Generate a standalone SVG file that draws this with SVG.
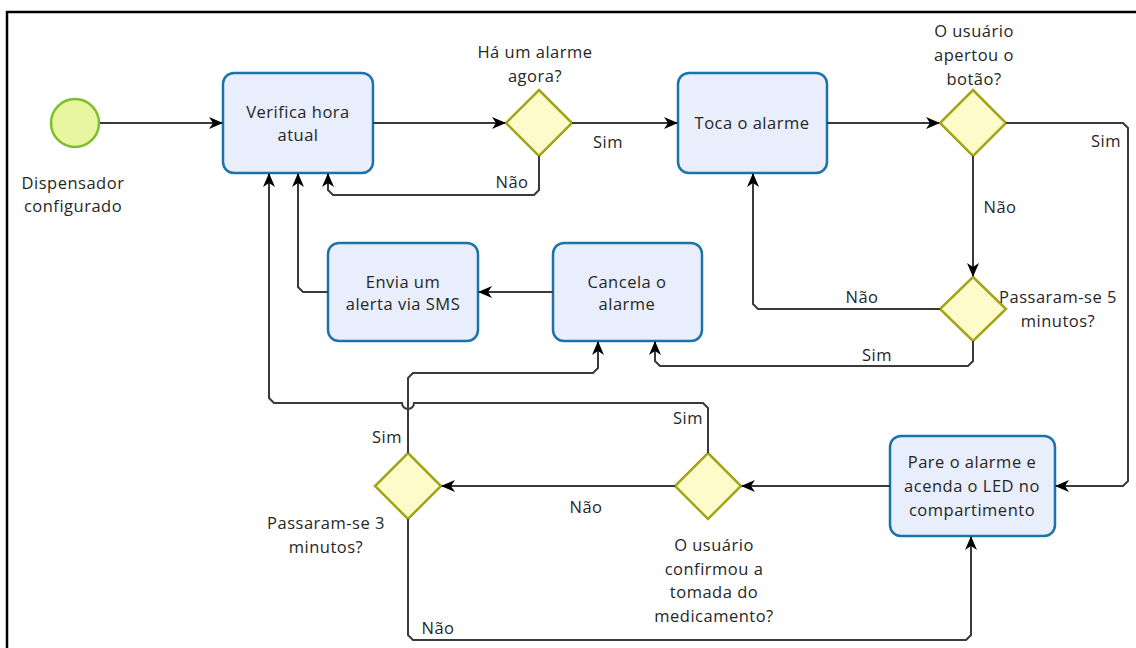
<svg xmlns="http://www.w3.org/2000/svg" width="1136" height="648" viewBox="0 0 1136 648">
<style>
.t{font-family:"Open Sans","Liberation Sans",sans-serif;font-size:16.5px;letter-spacing:0.5px;fill:#262626;text-anchor:middle}
.box{fill:#e8eefb;stroke:#1c73a8;stroke-width:2.5}
.dia{fill:#fcfbc9;stroke:#a3a519;stroke-width:2.5}
.c{fill:none;stroke:#3a3a3a;stroke-width:2}
</style>
<defs>
<marker id="ah" markerWidth="14" markerHeight="12" refX="13" refY="6" orient="auto" markerUnits="userSpaceOnUse">
<path d="M0,0 L14,6 L0,12 L4,6 Z" fill="#000"/>
</marker>
</defs>
<rect width="1136" height="648" fill="#fff"/>
<path d="M7,648 V12 H1136" fill="none" stroke="#000" stroke-width="2.5"/>

<g id="start">
<circle cx="75" cy="123" r="24" fill="#e8f6a0" stroke="#7cbf2a" stroke-width="2.5"/>
<text class="t" x="73" y="189">Dispensador</text>
<text class="t" x="73" y="212">configurado</text>
</g>
<g id="verifica">
<rect class="box" x="223" y="73" width="150" height="100" rx="11"/>
<text class="t" x="298" y="118">Verifica hora</text>
<text class="t" x="298" y="141">atual</text>
</g>
<g id="d1">
<polygon class="dia" points="539,90 572,123 539,156 506,123"/>
<text class="t" x="535" y="58">Há um alarme</text>
<text class="t" x="535" y="82">agora?</text>
</g>
<g id="toca">
<rect class="box" x="678" y="73" width="149" height="100" rx="11"/>
<text class="t" x="752" y="129">Toca o alarme</text>
</g>
<g id="d2">
<polygon class="dia" points="973,90 1006,123 973,156 940,123"/>
<text class="t" x="974" y="37">O usuário</text>
<text class="t" x="974" y="61">apertou o</text>
<text class="t" x="974" y="85">botão?</text>
</g>
<g id="d3">
<polygon class="dia" points="973,277 1006,309 973,341 940,309"/>
<text class="t" x="1058" y="303">Passaram-se 5</text>
<text class="t" x="1058" y="327">minutos?</text>
</g>
<g id="envia">
<rect class="box" x="328" y="243" width="150" height="98" rx="11"/>
<text class="t" x="403" y="288">Envia um</text>
<text class="t" x="403" y="310">alerta via SMS</text>
</g>
<g id="cancela">
<rect class="box" x="553" y="243" width="149" height="98" rx="11"/>
<text class="t" x="627" y="288">Cancela o</text>
<text class="t" x="627" y="310">alarme</text>
</g>
<g id="pare">
<rect class="box" x="890" y="436" width="165" height="100" rx="11"/>
<text class="t" x="972" y="468">Pare o alarme e</text>
<text class="t" x="972" y="492">acenda o LED no</text>
<text class="t" x="972" y="516">compartimento</text>
</g>
<g id="d5">
<polygon class="dia" points="708,453 741,486 708,519 675,486"/>
<text class="t" x="714" y="551">O usuário</text>
<text class="t" x="714" y="575">confirmou a</text>
<text class="t" x="714" y="598">tomada do</text>
<text class="t" x="714" y="622">medicamento?</text>
</g>
<g id="d4">
<polygon class="dia" points="408,453 441,486 408,519 375,486"/>
<text class="t" x="326" y="529">Passaram-se 3</text>
<text class="t" x="326" y="553">minutos?</text>
</g>

<g id="connectors">
<path class="c" d="M100,123 H222" marker-end="url(#ah)"/>
<path class="c" d="M373,123 H505" marker-end="url(#ah)"/>
<path class="c" d="M572,123 H677" marker-end="url(#ah)"/>
<path class="c" d="M539,156 V190 L534,195 H333 L328,190 V174" marker-end="url(#ah)"/>
<path class="c" d="M827,123 H939" marker-end="url(#ah)"/>
<path class="c" d="M1006,123 H1123 L1128,128 V481 L1123,486 H1056" marker-end="url(#ah)"/>
<path class="c" d="M973,156 V276" marker-end="url(#ah)"/>
<path class="c" d="M940,309 H758 L753,304 V174" marker-end="url(#ah)"/>
<path class="c" d="M973,341 V361 L968,366 H660 L655,361 V342" marker-end="url(#ah)"/>
<path class="c" d="M553,292 H479" marker-end="url(#ah)"/>
<path class="c" d="M328,292 H303 L298,287 V174" marker-end="url(#ah)"/>
<path class="c" d="M890,486 H742" marker-end="url(#ah)"/>
<path class="c" d="M675,486 H442" marker-end="url(#ah)"/>
<path class="c" d="M708,453 V408 L703,403 H414 A6,6 0 0 1 402,403 H274 L269,398 V174" marker-end="url(#ah)"/>
<path class="c" d="M408,453 V378 L413,373 H593 L598,368 V342" marker-end="url(#ah)"/>
<path class="c" d="M408,519 V635 L413,640 H966 L971,635 V537" marker-end="url(#ah)"/>
<text class="t" x="608" y="148">Sim</text>
<text class="t" x="512" y="188">Não</text>
<text class="t" x="1106" y="147">Sim</text>
<text class="t" x="1000" y="213">Não</text>
<text class="t" x="862" y="303">Não</text>
<text class="t" x="877" y="361">Sim</text>
<text class="t" x="688" y="424">Sim</text>
<text class="t" x="387" y="443">Sim</text>
<text class="t" x="586" y="513">Não</text>
<text class="t" x="438" y="634">Não</text>
</g>
</svg>
